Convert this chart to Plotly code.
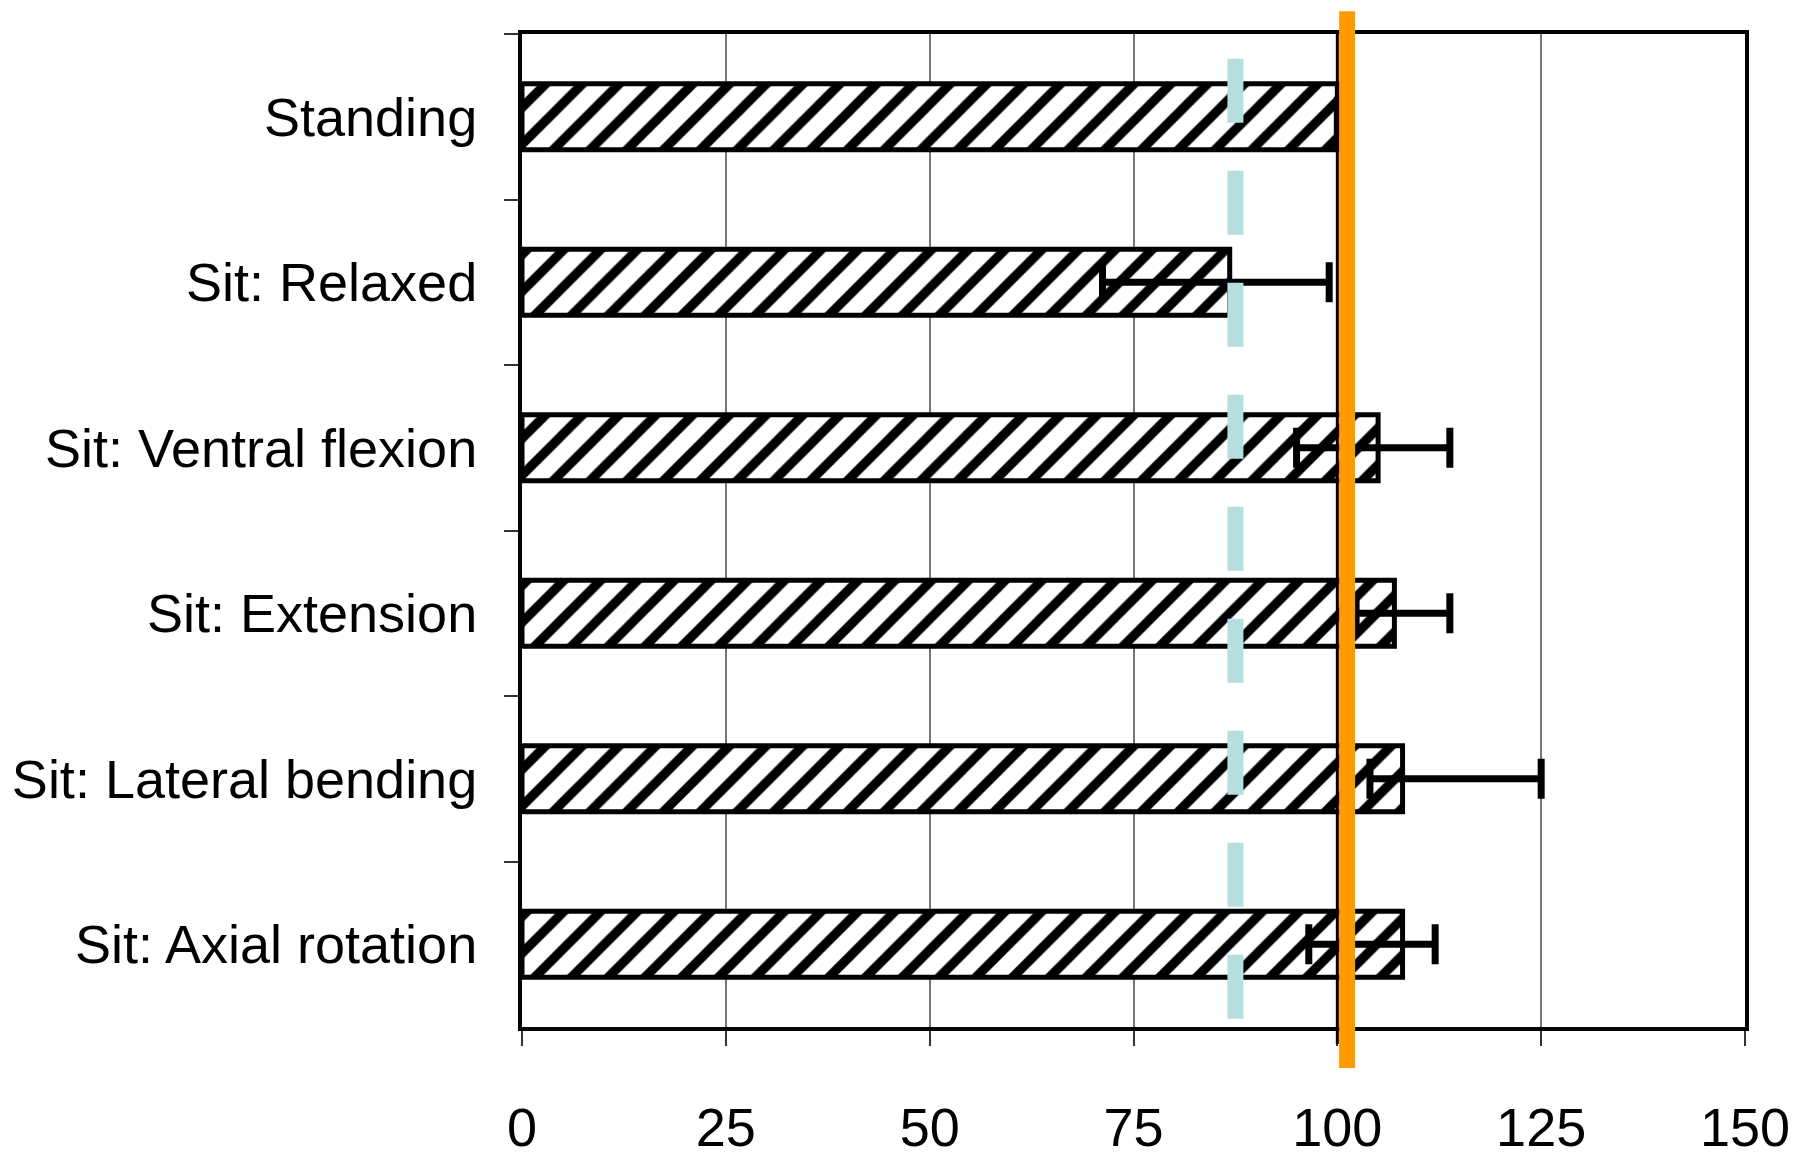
import plotly.graph_objects as go

categories = ["Standing", "Sit: Relaxed", "Sit: Ventral flexion", "Sit: Extension",
              "Sit: Lateral bending", "Sit: Axial rotation"]
values = [100, 86.8, 105, 107, 108, 108]
err_plus = [0, 12.2, 8.8, 6.8, 17, 4]
err_minus = [0, 15.6, 10, 4.7, 4, 11.5]
x_ticks = [0, 25, 50, 75, 100, 125, 150]
ref_orange = 101.2
ref_cyan = 87.5
ref_black = 100

fig = go.Figure()
fig.add_trace(go.Bar(
    y=categories, x=values, orientation="h", width=0.40,
    marker=dict(color="white", line=dict(color="black", width=5),
                pattern=dict(shape="/", fgcolor="black", bgcolor="white", fgopacity=1,
                             fillmode="replace", size=26, solidity=0.36)),
    error_x=dict(type="data", symmetric=False, array=err_plus, arrayminus=err_minus,
                 color="black", thickness=7, width=20),
    showlegend=False,
))

fig.add_shape(type="line", xref="x", yref="paper", x0=ref_black, x1=ref_black, y0=1.0, y1=-0.017,
              line=dict(color="black", width=3))
fig.add_shape(type="line", xref="x", yref="paper", x0=ref_cyan, x1=ref_cyan, y0=0.975, y1=0.008,
              line=dict(color="#B5DFE0", width=16, dash="64px,48px"))
fig.add_shape(type="line", xref="x", yref="paper", x0=ref_orange, x1=ref_orange, y0=1.023, y1=-0.0413,
              line=dict(color="#FF9900", width=16))

fig.update_layout(
    width=1798, height=1160,
    margin=dict(l=522, r=53, t=34, b=133, autoexpand=False),
    paper_bgcolor="white", plot_bgcolor="white",
    font=dict(family="Liberation Sans, Arial, sans-serif", color="black"),
    bargap=0.6,
)
fig.update_xaxes(
    range=[0, 150], tickvals=x_ticks, ticktext=[str(v) for v in x_ticks],
    showgrid=True, gridcolor="#777777", gridwidth=1.5,
    showline=True, linecolor="black", linewidth=4, mirror=True,
    ticks="outside", ticklen=15, tickwidth=2, tickcolor="#333333",
    tickfont=dict(size=54, family="Liberation Sans, Arial, sans-serif"),
    ticklabelstandoff=35, zeroline=False, fixedrange=True, automargin=False,
)
fig.update_yaxes(
    categoryorder="array", categoryarray=categories, autorange="reversed",
    tickson="boundaries", showgrid=False,
    showline=True, linecolor="black", linewidth=4, mirror=True,
    ticks="outside", ticklen=14, tickwidth=2, tickcolor="#333333",
    tickfont=dict(size=54, family="Liberation Sans, Arial, sans-serif"),
    ticklabelstandoff=30, fixedrange=True, automargin=False,
)

fig.write_html("out.html", config={"displayModeBar": False},
               post_script="document.body.style.margin='0';document.body.style.overflow='hidden';")
